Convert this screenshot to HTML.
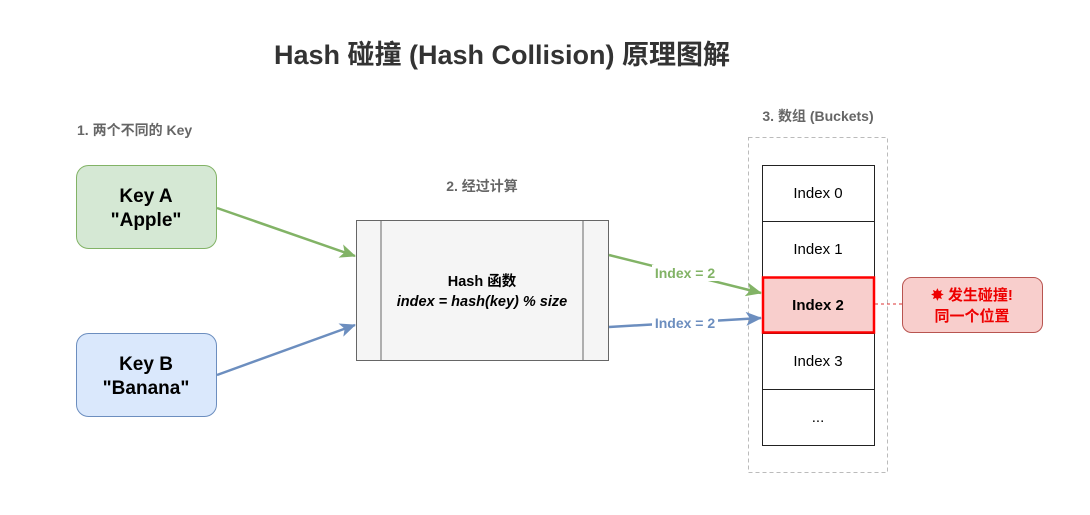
<!DOCTYPE html>
<html><head><meta charset="utf-8"><style>
body{margin:0;width:1090px;height:510px;background:#fff;overflow:hidden}
svg text{font-family:"Liberation Sans","Noto Sans CJK SC",sans-serif}
</style></head><body>
<svg width="1090" height="510" viewBox="0 0 1090 510">
<defs>
<marker id="ag" markerWidth="16" markerHeight="14" refX="15" refY="7" orient="auto" markerUnits="userSpaceOnUse"><path d="M0,0 L16,7 L0,14 L4,7z" fill="#82b366"/></marker>
<marker id="ab" markerWidth="16" markerHeight="14" refX="15" refY="7" orient="auto" markerUnits="userSpaceOnUse"><path d="M0,0 L16,7 L0,14 L4,7z" fill="#6c8ebf"/></marker>
</defs>
<text x="502" y="64" text-anchor="middle" font-size="27" font-weight="bold" fill="#333">Hash 碰撞 (Hash Collision) 原理图解</text>
<text x="77" y="135" font-size="14" font-weight="bold" fill="#666">1. 两个不同的 Key</text>
<text x="482" y="191" text-anchor="middle" font-size="14" font-weight="bold" fill="#666">2. 经过计算</text>
<text x="818" y="121" text-anchor="middle" font-size="14" font-weight="bold" fill="#666">3. 数组 (Buckets)</text>
<rect x="76.5" y="165.5" width="140" height="83" rx="12" fill="#d5e8d4" stroke="#82b366"/>
<text x="146" y="202" text-anchor="middle" font-size="19" font-weight="bold">Key A</text>
<text x="146" y="226" text-anchor="middle" font-size="19" font-weight="bold">"Apple"</text>
<rect x="76.5" y="333.5" width="140" height="83" rx="12" fill="#dae8fc" stroke="#6c8ebf"/>
<text x="146" y="370" text-anchor="middle" font-size="19" font-weight="bold">Key B</text>
<text x="146" y="394" text-anchor="middle" font-size="19" font-weight="bold">"Banana"</text>
<rect x="356.5" y="220.5" width="252" height="140" fill="#f5f5f5" stroke="#666"/>
<line x1="381" y1="221" x2="381" y2="360" stroke="#666"/>
<line x1="583" y1="221" x2="583" y2="360" stroke="#666"/>
<text x="482" y="286" text-anchor="middle" font-size="14.5" font-weight="bold">Hash 函数</text>
<text x="482" y="306" text-anchor="middle" font-size="14.5" font-weight="bold" font-style="italic">index = hash(key) % size</text>
<rect x="748.5" y="137.5" width="139" height="335" fill="none" stroke="#bbb" stroke-dasharray="4,3"/>
<g font-size="15" text-anchor="middle">
<rect x="762.5" y="165.5" width="112" height="56" fill="#fff" stroke="#222"/><text x="818" y="198">Index 0</text>
<rect x="762.5" y="221.5" width="112" height="56" fill="#fff" stroke="#222"/><text x="818" y="254">Index 1</text>
<rect x="762.5" y="333.5" width="112" height="56" fill="#fff" stroke="#222"/><text x="818" y="366">Index 3</text>
<rect x="762.5" y="389.5" width="112" height="56" fill="#fff" stroke="#222"/><text x="818" y="422">...</text>
<rect x="763" y="277.5" width="111" height="55" fill="#f8cecc" stroke="#f00" stroke-width="2.5"/><text x="818" y="310" font-weight="bold">Index 2</text>
</g>
<line x1="875" y1="304" x2="902" y2="304" stroke="#d33" stroke-dasharray="3,3"/>
<rect x="902.5" y="277.5" width="140" height="55" rx="9" fill="#f8cecc" stroke="#b85450"/>
<text x="972" y="300" text-anchor="middle" font-size="15" font-weight="bold" fill="#e00">✸ 发生碰撞!</text>
<text x="972" y="321" text-anchor="middle" font-size="15" font-weight="bold" fill="#e00">同一个位置</text>
<line x1="217" y1="208" x2="355" y2="256" stroke="#82b366" stroke-width="2.5" marker-end="url(#ag)"/>
<line x1="217" y1="375" x2="355" y2="325" stroke="#6c8ebf" stroke-width="2.5" marker-end="url(#ab)"/>
<line x1="609" y1="255" x2="761" y2="293" stroke="#82b366" stroke-width="2.5" marker-end="url(#ag)"/>
<line x1="609" y1="327" x2="761" y2="318" stroke="#6c8ebf" stroke-width="2.5" marker-end="url(#ab)"/>
<rect x="652" y="265" width="66" height="16" fill="#fff"/>
<text x="685" y="278" text-anchor="middle" font-size="14" font-weight="bold" fill="#82b366">Index = 2</text>
<rect x="652" y="315" width="66" height="16" fill="#fff"/>
<text x="685" y="328" text-anchor="middle" font-size="14" font-weight="bold" fill="#6c8ebf">Index = 2</text>
</svg>
</body></html>
